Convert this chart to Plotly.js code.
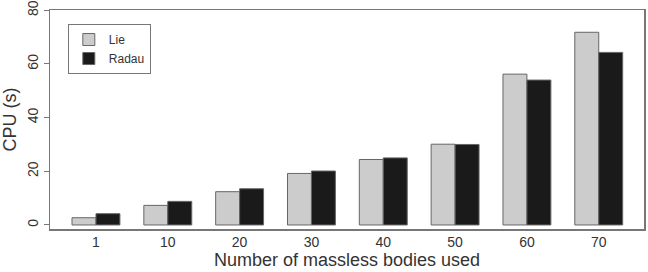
<!DOCTYPE html>
<html>
<head>
<meta charset="utf-8">
<script src="https://cdn.plot.ly/plotly-3.0.1.min.js"></script>
<style>
  html, body { margin: 0; padding: 0; background: #fff; }
  #chart { width: 648px; height: 272px; }
</style>
</head>
<body>
<div id="chart"></div>
<script>
// Number of massless bodies (categories along x)
const bodies = ['1', '10', '20', '30', '40', '50', '60', '70'];
// CPU time in seconds for each integrator
const lieCPU   = [2.7, 7.3, 12.4, 19.2, 24.4, 30.1, 56.2, 71.8];
const radauCPU = [4.2, 8.8, 13.5, 20.1, 25.0, 30.0, 54.0, 64.3];
const yTicks = [0, 20, 40, 60, 80];

const barLine = { color: '#666666', width: 1 };

const traces = [
  { type: 'bar', name: 'Lie', x: bodies, y: lieCPU,
    marker: { color: '#cccccc', line: barLine } },
  { type: 'bar', name: 'Radau', x: bodies, y: radauCPU,
    marker: { color: '#1a1a1a', line: barLine } }
];

const font = { family: 'Liberation Sans, Arial, sans-serif', color: '#333333' };

const layout = {
  width: 648, height: 272,
  margin: { l: 50, r: 4, t: 10, b: 43 },
  paper_bgcolor: '#ffffff', plot_bgcolor: '#ffffff',
  font: Object.assign({ size: 14 }, font),
  barmode: 'group',
  bargap: 0.333,
  bargroupgap: 0,
  showlegend: true,
  legend: {
    x: 0.03, y: 0.936, xanchor: 'left', yanchor: 'top',
    bgcolor: '#ffffff', bordercolor: '#777777', borderwidth: 1,
    font: Object.assign({ size: 12 }, font),
    itemwidth: 30, tracegroupgap: 0
  },
  xaxis: {
    type: 'category',
    range: [-0.64, 7.63],
    showline: true, mirror: true, linecolor: '#777777', linewidth: 1.5,
    ticks: '', showgrid: false, zeroline: false,
    tickfont: Object.assign({ size: 14 }, font),
    title: { text: 'Number of massless bodies used', font: Object.assign({ size: 18 }, font), standoff: 4 }
  },
  yaxis: {
    range: [-1.5, 80.1],
    tickvals: yTicks, ticktext: yTicks.map(String),
    tickangle: -90,
    ticklabeloverflow: 'allow',
    ticks: 'outside', ticklen: 5, tickcolor: '#777777', tickwidth: 1,
    showline: true, mirror: true, linecolor: '#777777', linewidth: 1.5,
    showgrid: false, zeroline: false,
    tickfont: Object.assign({ size: 14 }, font),
    title: { text: 'CPU (s)', font: Object.assign({ size: 18 }, font), standoff: 6 }
  }
};

Plotly.newPlot('chart', traces, layout, { staticPlot: true, displayModeBar: false });
</script>
</body>
</html>
